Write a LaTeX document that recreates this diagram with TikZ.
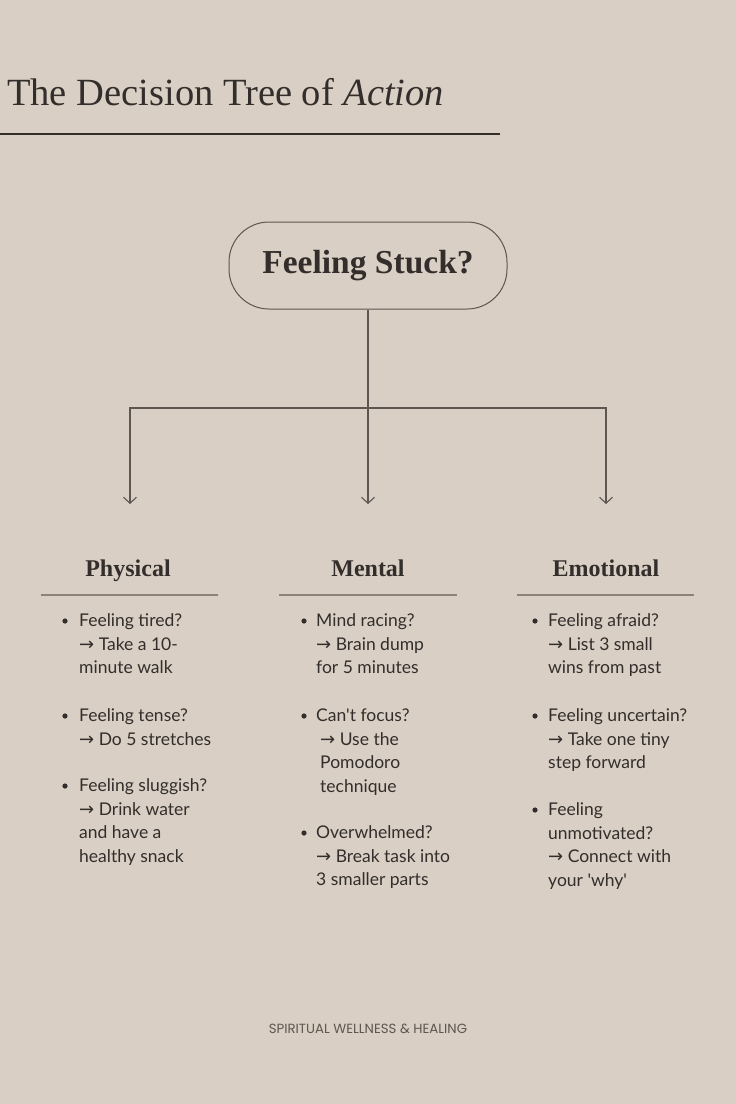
\documentclass[tikz,border=0pt]{standalone}
\usepackage{fontspec}
\setmainfont{Liberation Serif}
\newfontfamily\bodyfont{Lato}
\newfontfamily\arrowfont{DejaVu Sans}
\newfontfamily\footfont{Poppins}
\usetikzlibrary{arrows.meta}
\definecolor{bg}{HTML}{D9CFC4}
\definecolor{ink}{HTML}{332E2B}
\definecolor{wire}{HTML}{5E5650}
\definecolor{rule}{HTML}{8B8279}
\newcommand{\ra}{{\arrowfont\fontsize{18}{23.5}\selectfont →}}
\tikzset{
  titletext/.style={anchor=base west, inner sep=0, text=ink, font=\fontsize{38.5}{44}\selectfont},
  rootbox/.style={draw=wire, line width=1pt, rounded corners=40pt, minimum width=278pt, minimum height=87pt, inner sep=0, text=ink, font=\bfseries\fontsize{33.5}{40}\selectfont},
  wireline/.style={draw=wire, line width=1.1pt},
  arr/.style={wireline, -{Straight Barb[length=6pt,width=13pt,line width=1.1pt]}},
  headtext/.style={anchor=base, inner sep=0, text=ink, font=\bfseries\fontsize{24}{28}\selectfont},
  uline/.style={draw=rule, line width=1.1pt},
  itemtext/.style={anchor=north west, inner sep=0, align=left, text=ink, font=\bodyfont\fontsize{17.5}{23.5}\selectfont},
  bulletdot/.style={fill=ink},
  foottext/.style={anchor=base, inner sep=0, text=wire, font=\footfont\fontsize{13.3}{15}\selectfont}
}
\begin{document}
\begin{tikzpicture}[x=1pt,y=-1pt]
\useasboundingbox (0,0) rectangle (736,1104);
\fill[bg] (0,0) rectangle (736,1104);
% title
\node[titletext] (title) at (7,105) {The Decision Tree of \textit{Action}};
\draw[draw=ink, line width=1.5pt] (0,134) -- (500,134);
% root
\node[rootbox] (root) at (368,265.5) {Feeling Stuck?};
\coordinate (j) at (368,408);
\coordinate (e1) at (130,504);
\coordinate (e2) at (368,504);
\coordinate (e3) at (606,504);
\draw[wireline] (root.south) -- (j);
\draw[arr] (j) -| (e1);
\draw[arr] (j) -- (e2);
\draw[arr] (j) -| (e3);
% headings
\node[headtext] (phys) at (128,576) {Physical};
\node[headtext] (ment) at (368,576) {Mental};
\node[headtext] (emot) at (606,576) {Emotional};
\draw[uline] (41,595) -- (218,595);
\draw[uline] (279,595) -- (457,595);
\draw[uline] (517,595) -- (694,595);
% physical items
\node[itemtext] (p1) at (79,610) {\strut Feeling tired?\\\ra\ Take a 10-\\minute walk};
\node[itemtext] (p2) at (79,705) {\strut Feeling tense?\\\ra\ Do 5 stretches};
\node[itemtext] (p3) at (79,775) {\strut Feeling sluggish?\\\ra\ Drink water\\and have a\\healthy snack};
\fill[bulletdot] (65,621) circle (2.6pt);
\fill[bulletdot] (65,716) circle (2.6pt);
\fill[bulletdot] (65,786) circle (2.6pt);
% mental items
\node[itemtext] (m1) at (316,610) {\strut Mind racing?\\\ra\ Brain dump\\for 5 minutes};
\node[itemtext] (m2) at (316,705) {\strut Can't focus?\\\hspace{4pt}\ra\ Use the\\\hspace{4pt}Pomodoro\\\hspace{4pt}technique};
\node[itemtext] (m3) at (316,822) {\strut Overwhelmed?\\\ra\ Break task into\\3 smaller parts};
\fill[bulletdot] (304,621) circle (2.6pt);
\fill[bulletdot] (304,716) circle (2.6pt);
\fill[bulletdot] (304,833) circle (2.6pt);
% emotional items
\node[itemtext] (o1) at (548,610) {\strut Feeling afraid?\\\ra\ List 3 small\\wins from past};
\node[itemtext] (o2) at (548,705) {\strut Feeling uncertain?\\\ra\ Take one tiny\\step forward};
\node[itemtext] (o3) at (548,799) {\strut Feeling\\unmotivated?\\\ra\ Connect with\\your 'why'};
\fill[bulletdot] (535,621) circle (2.6pt);
\fill[bulletdot] (535,716) circle (2.6pt);
\fill[bulletdot] (535,810) circle (2.6pt);
% footer
\node[foottext] (foot) at (368,1033) {SPIRITUAL WELLNESS \& HEALING};
\end{tikzpicture}
\end{document}
